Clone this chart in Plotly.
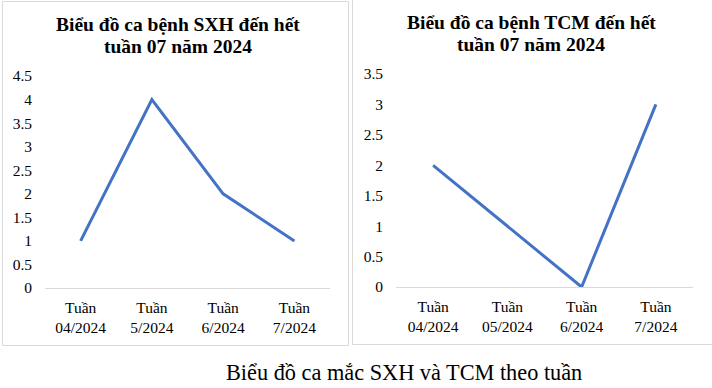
import plotly.graph_objects as go

weeks_sxh = ["Tuần<br>04/2024", "Tuần<br>5/2024", "Tuần<br>6/2024", "Tuần<br>7/2024"]
cases_sxh = [1, 4, 2, 1]
weeks_tcm = ["Tuần<br>04/2024", "Tuần<br>05/2024", "Tuần<br>6/2024", "Tuần<br>7/2024"]
cases_tcm = [2, 1, 0, 3]
yticks_sxh = [0, 0.5, 1, 1.5, 2, 2.5, 3, 3.5, 4, 4.5]
yticks_tcm = [0, 0.5, 1, 1.5, 2, 2.5, 3, 3.5]

title_sxh = ["Biểu đồ ca bệnh SXH đến hết", "tuần 07 năm 2024"]
title_tcm = ["Biểu đồ ca bệnh TCM đến hết", "tuần 07 năm 2024"]
caption = "Biểu đồ ca mắc SXH và TCM theo tuần"

W, H = 712, 388
LINE = "#4472C4"
BORDER = "#d9d9d9"
FONT = "Liberation Serif, Times New Roman, serif"

def px(x):
    return x / W

def py(y):
    return 1 - y / H

fig = go.Figure()
fig.add_trace(go.Scatter(x=weeks_sxh, y=cases_sxh, mode="lines",
                         line=dict(color=LINE, width=3), xaxis="x", yaxis="y",
                         showlegend=False, hoverinfo="skip"))
fig.add_trace(go.Scatter(x=weeks_tcm, y=cases_tcm, mode="lines",
                         line=dict(color=LINE, width=3), xaxis="x2", yaxis="y2",
                         showlegend=False, hoverinfo="skip"))

common_x = dict(type="category", showgrid=False, zeroline=False, showline=True,
                linecolor=BORDER, linewidth=1, ticks="", fixedrange=True, automargin=False,
                tickfont=dict(family=FONT, size=15.5, color="#000"),
                ticklabelstandoff=5, range=[-0.5, 3.5])
common_y = dict(showgrid=False, zeroline=False, showline=False, ticks="", automargin=False,
                tickfont=dict(family=FONT, size=15.5, color="#000"),
                ticklabelstandoff=12, fixedrange=True)

fig.update_layout(
    width=W, height=H,
    margin=dict(l=0, r=0, t=0, b=0, pad=0, autoexpand=False),
    paper_bgcolor="white", plot_bgcolor="white",
    showlegend=False,
    xaxis=dict(domain=[px(45), px(330)], anchor="y", **common_x),
    yaxis=dict(domain=[py(288), py(76)], anchor="x", range=[0, 4.5],
               tickvals=yticks_sxh, ticktext=[f"{v:g}" for v in yticks_sxh], **common_y),
    xaxis2=dict(domain=[px(396), px(693)], anchor="y2", **common_x),
    yaxis2=dict(domain=[py(287), py(74)], anchor="x2", range=[0, 3.5],
                tickvals=yticks_tcm, ticktext=[f"{v:g}" for v in yticks_tcm], **common_y),
    shapes=[
        dict(type="rect", xref="paper", yref="paper", x0=px(2.5), x1=px(348.5),
             y0=py(345.5), y1=py(1.5), line=dict(color=BORDER, width=1)),
        dict(type="rect", xref="paper", yref="paper", x0=px(352.5), x1=px(720),
             y0=py(344.5), y1=py(-5), line=dict(color=BORDER, width=1)),
    ],
)

anns = []
for i, t in enumerate(title_sxh):
    anns.append(dict(text=f"<b>{t}</b>", x=px(178), y=py([25, 46][i]), xref="paper", yref="paper",
                     showarrow=False, xanchor="center", yanchor="middle",
                     font=dict(family=FONT, size=19.5, color="#000")))
for i, t in enumerate(title_tcm):
    anns.append(dict(text=f"<b>{t}</b>", x=px(531), y=py([22.5, 44][i]), xref="paper", yref="paper",
                     showarrow=False, xanchor="center", yanchor="middle",
                     font=dict(family=FONT, size=19.5, color="#000")))
anns.append(dict(text=caption, x=px(404), y=py(372), xref="paper", yref="paper",
                 showarrow=False, xanchor="center", yanchor="middle",
                 font=dict(family=FONT, size=22.3, color="#000")))
fig.update_layout(annotations=anns)

fig.write_html("out.html", config={"displayModeBar": False},
               post_script="document.body.style.margin='0';document.body.style.overflow='hidden';")
